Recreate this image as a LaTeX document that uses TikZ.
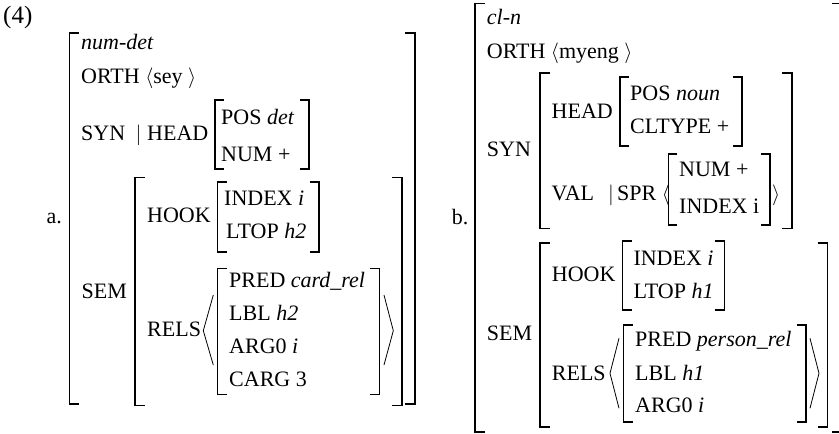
\documentclass[tikz,border=0pt]{standalone}
\usepackage{fontspec}
\setmainfont{Liberation Serif}
\usepackage{tikz}
\tikzstyle{feat}=[anchor=base west, inner sep=0pt, font=\fontsize{22}{26}\selectfont]
\tikzstyle{brk}=[line width=1.6pt]
\tikzstyle{ang}=[line width=0.8pt]

\begin{document}
\begin{tikzpicture}[x=1pt,y=-1pt]
        \useasboundingbox (0,0) rectangle (839,434);
        \node [feat, font=\fontsize{25}{30}\selectfont] (exno) at (3,23) {(4)};
        % (a) num-det
        \node [feat] (la) at (46.5,223) {a.};
        \draw [brk] (79,33) -- ++(-9.5,0) -- ++(0,371) -- ++(9.5,0);
        \draw [brk] (405,33) -- ++(10,0) -- ++(0,371) -- ++(-10,0);
        \node [feat] (typea) at (81,49.3) {\textit{num-det}};
        \node [feat] (ortha) at (81,83.3) {ORTH $\langle$sey $\rangle$};
        \node [feat] (syna) at (81,140) {SYN};
        \node [feat] (bara) at (135.5,140) {$|$};
        \node [feat] (heada) at (147,140) {HEAD};
        \draw [brk] (224,100) -- ++(-9,0) -- ++(0,69) -- ++(9,0);
        \draw [brk] (300,100) -- ++(9,0) -- ++(0,69) -- ++(-9,0);
        \node [feat] (posa) at (221,124) {POS \textit{det}};
        \node [feat] (numa) at (221,161.7) {NUM +};
        \node [feat] (sema) at (81.5,298) {SEM};
        \draw [brk] (145,177.5) -- ++(-10,0) -- ++(0,228) -- ++(10,0);
        \draw [brk] (392,177.5) -- ++(9.7,0) -- ++(0,228) -- ++(-9.7,0);
        \node [feat] (hooka) at (147,222.7) {HOOK};
        \draw [brk] (226.5,181.7) -- ++(-9.2,0) -- ++(0,70) -- ++(9.2,0);
        \draw [brk] (310,181.7) -- ++(9,0) -- ++(0,70) -- ++(-9,0);
        \node [feat] (indexa) at (224,205) {INDEX \textit{i}};
        \node [feat] (ltopa) at (226,238.5) {LTOP \textit{h2}};
        \node [feat] (relsa) at (147,336.7) {RELS};
        \draw [ang] (213.3,295) -- (203.3,330.7) -- (213.3,365);
        \draw [brk] (226.5,268.3) -- ++(-9.2,0) -- ++(0,126) -- ++(9.2,0);
        \draw [brk] (370,268.3) -- ++(9.3,0) -- ++(0,126) -- ++(-9.3,0);
        \draw [ang] (384,295) -- (393.3,330.7) -- (384,365);
        \node [feat] (preda) at (229,287.3) {PRED \textit{card\_rel}};
        \node [feat] (lbla) at (229,320) {LBL \textit{h2}};
        \node [feat] (arga) at (229,353) {ARG0 \textit{i}};
        \node [feat] (carga) at (229,386.7) {CARG 3};
        % (b) cl-n
        \node [feat] (lb) at (451.7,224) {b.};
        \draw [brk] (485,3.3) -- ++(-10,0) -- ++(0,428.4) -- ++(10,0);
        \draw [brk] (832,3.3) -- ++(10,0) -- ++(0,428.4) -- ++(-10,0);
        \node [feat] (typeb) at (486.7,24) {\textit{cl-n}};
        \node [feat] (orthb) at (486.7,58) {ORTH $\langle$myeng $\rangle$};
        \node [feat] (synb) at (486.7,156.7) {SYN};
        \draw [brk] (550,72.7) -- ++(-10,0) -- ++(0,155.6) -- ++(10,0);
        \draw [brk] (782,72.7) -- ++(9.7,0) -- ++(0,155.6) -- ++(-9.7,0);
        \node [feat] (headb) at (551.5,118.3) {HEAD};
        \draw [brk] (629,76.7) -- ++(-9,0) -- ++(0,69) -- ++(9,0);
        \draw [brk] (732.7,76.7) -- ++(9,0) -- ++(0,69) -- ++(-9,0);
        \node [feat] (posb) at (630,100) {POS \textit{noun}};
        \node [feat] (cltb) at (630,133.3) {CLTYPE +};
        \node [feat] (valb) at (551.5,200) {VAL};
        \node [feat] (barb) at (608,200) {$|$};
        \node [feat] (sprb) at (617,200) {SPR $\langle$};
        \draw [brk] (677.3,154) -- ++(-9,0) -- ++(0,71) -- ++(9,0);
        \draw [brk] (761,154) -- ++(9,0) -- ++(0,71) -- ++(-9,0);
        \node [feat] (sprr) at (772,200) {$\rangle$};
        \node [feat] (numb) at (679,176.7) {NUM +};
        \node [feat] (indsb) at (679,213.3) {INDEX i};
        \node [feat] (semb) at (486.7,340) {SEM};
        \draw [brk] (550,242.7) -- ++(-10,0) -- ++(0,184) -- ++(10,0);
        \draw [brk] (817.5,242.7) -- ++(9.8,0) -- ++(0,184) -- ++(-9.8,0);
        \node [feat] (hookb) at (551.7,281.7) {HOOK};
        \draw [brk] (631.5,240.7) -- ++(-9.2,0) -- ++(0,69.3) -- ++(9.2,0);
        \draw [brk] (715,240.7) -- ++(9.3,0) -- ++(0,69.3) -- ++(-9.3,0);
        \node [feat] (indexb) at (633.3,265) {INDEX \textit{i}};
        \node [feat] (ltopb) at (633.3,298.3) {LTOP \textit{h1}};
        \node [feat] (relsb) at (551.7,380) {RELS};
        \draw [ang] (619,338.3) -- (610,373.3) -- (619,408.3);
        \draw [brk] (632.5,325) -- ++(-9.2,0) -- ++(0,96.7) -- ++(9.2,0);
        \draw [brk] (796.5,325) -- ++(9.2,0) -- ++(0,96.7) -- ++(-9.2,0);
        \draw [ang] (810,338.3) -- (819,373.3) -- (810,408.3);
        \node [feat] (predb) at (635,346.7) {PRED \textit{person\_rel}};
        \node [feat] (lblb) at (635,380) {LBL \textit{h1}};
        \node [feat] (argb) at (635,412.3) {ARG0 \textit{i}};
\end{tikzpicture}
\end{document}
